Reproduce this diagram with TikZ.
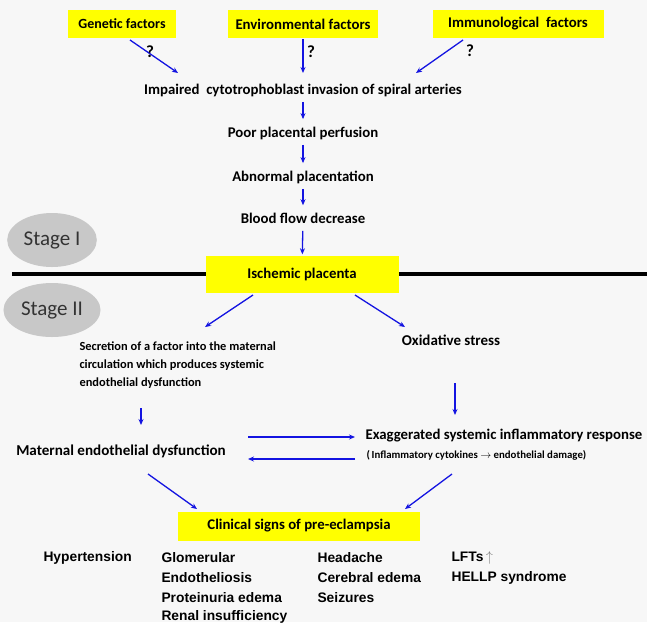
\documentclass[tikz,border=0pt]{standalone}
\usepackage{fontspec}
\setmainfont{Carlito}
\newfontfamily\arialfont{Liberation Sans}
\usepackage{tikz}
\usetikzlibrary{arrows.meta,shapes.geometric}

\definecolor{boxyellow}{RGB}{255,255,0}
\definecolor{arrowblue}{RGB}{20,20,225}
\definecolor{stagegray}{RGB}{200,200,200}

\begin{document}
\begin{tikzpicture}[x=1pt, y=-1pt,
    factor/.style={fill=boxyellow, font=\fontsize{14.8}{16}\selectfont\bfseries, minimum height=28pt, inner xsep=7pt},
    stepnode/.style={font=\fontsize{14.8}{16}\selectfont\bfseries},
    stage/.style={ellipse, fill=stagegray, minimum width=80pt, minimum height=54pt, font=\fontsize{21}{24}\selectfont, text=black!80},
    sign/.style={anchor=west, font=\arialfont\fontsize{13.8}{15}\selectfont\bfseries},
    flow/.style={draw=arrowblue, line width=1.3pt, -{Stealth[length=6pt, width=5pt]}},
    ask/.style={font=\fontsize{17}{19}\selectfont\bfseries}]

    \useasboundingbox[fill=black!3] (0,0) rectangle (647,622);

    \node[factor, font=\fontsize{14}{16}\selectfont\bfseries, minimum width=108pt] (gen) at (122,24) {Genetic factors};

    \node[factor, minimum width=150pt] (env) at (303,24) {Environmental factors};

    \node[factor, minimum width=171pt] (imm) at (518,24) {Immunological\ \ factors};

    \node[stepnode] (imp) at (303,90) {Impaired\ \ cytotrophoblast invasion of spiral arteries};

    \node[stepnode] (poor) at (303,133) {Poor placental perfusion};

    \node[stepnode] (abn) at (303,177) {Abnormal placentation};

    \node[stepnode] (blood) at (303,218) {Blood flow decrease};

    \node[stage] (s1) at (52,240) {Stage I};

    \draw[line width=4pt] (12,274) -- (647,274);

    \node[factor, minimum width=193pt, minimum height=37pt] (isch) at (302,274) {Ischemic placenta};

    \node[stage] (s2) at (52,310) {Stage II};

    \node[anchor=north west, align=left, font=\fontsize{12.4}{18}\selectfont\bfseries] (secr) at (76,338) {Secretion of a factor into the maternal\\circulation which produces systemic\\endothelial dysfunction};

    \node[font=\fontsize{15}{18}\selectfont\bfseries] (ox) at (451,340) {Oxidative stress};

    \node[font=\fontsize{15.1}{18}\selectfont\bfseries] (mat) at (121,451) {Maternal endothelial dysfunction};

    \node[anchor=west, font=\fontsize{14.8}{18}\selectfont\bfseries] (exag) at (362,436) {Exaggerated systemic inflammatory response};

    \node[anchor=west, font=\fontsize{10.8}{12}\selectfont\bfseries] (cyto) at (363,455) {(\,Inflammatory cytokines $\rightarrow$ endothelial damage)};

    \node[factor, minimum width=242pt, minimum height=29pt] (clin) at (299,526) {Clinical signs of pre-eclampsia};

    % clinical signs
    \node[sign] (hyp) at (40,558) {Hypertension};
    \node[sign] (glo) at (158,558) {Glomerular};
    \node[sign] (endo) at (158,578) {Endotheliosis};
    \node[sign] (prot) at (158,598) {Proteinuria edema};
    \node[sign] (ren) at (158,617) {Renal insufficiency};
    \node[sign] (head) at (314,558) {Headache};
    \node[sign] (cer) at (314,578) {Cerebral edema};
    \node[sign] (seiz) at (314,598) {Seizures};
    \node[sign] (lft) at (448,558) {LFTs\,\textcolor{gray}{$\uparrow$}};
    \node[sign] (hellp) at (448,578) {HELLP syndrome};

    % arrows
    \coordinate (g1) at (130,40);
    \coordinate (g2) at (178,73);
    \coordinate (e1) at (303,39);
    \coordinate (e2) at (303,73);
    \coordinate (i1) at (463,40);
    \coordinate (i2) at (416,73);
    \draw[flow] (g1) -- (g2);
    \draw[flow] (e1) -- (e2);
    \draw[flow] (i1) -- (i2);
    \node[ask] (q1) at (150,52) {?};
    \node[ask] (q2) at (311,52) {?};
    \node[ask] (q3) at (470,51) {?};

    \draw[flow, shorten <=2pt, shorten >=4pt] (imp) -- (poor);
    \draw[flow, shorten <=2pt, shorten >=4pt] (poor) -- (abn);
    \draw[flow, shorten <=2pt, shorten >=4pt] (abn) -- (blood);
    \draw[flow, shorten <=4pt, shorten >=1pt] (blood) -- (isch);

    \coordinate (l1) at (253,295);
    \coordinate (l2) at (205,327);
    \coordinate (r1) at (355,295);
    \coordinate (r2) at (405,327);
    \draw[flow] (l1) -- (l2);
    \draw[flow] (r1) -- (r2);

    \coordinate (o1) at (455,383);
    \coordinate (o2) at (455,415);
    \draw[flow] (o1) -- (o2);
    \coordinate (s1a) at (141,408);
    \coordinate (s1b) at (141,425);
    \draw[flow] (s1a) -- (s1b);

    \coordinate (m1) at (248,437);
    \coordinate (m2) at (355,437);
    \coordinate (m3) at (355,459);
    \coordinate (m4) at (248,459);
    \draw[flow] (m1) -- (m2);
    \draw[flow] (m3) -- (m4);

    \coordinate (c1) at (148,474);
    \coordinate (c2) at (197,509);
    \coordinate (c3) at (452,474);
    \coordinate (c4) at (405,509);
    \draw[flow] (c1) -- (c2);
    \draw[flow] (c3) -- (c4);

\end{tikzpicture}
\end{document}
